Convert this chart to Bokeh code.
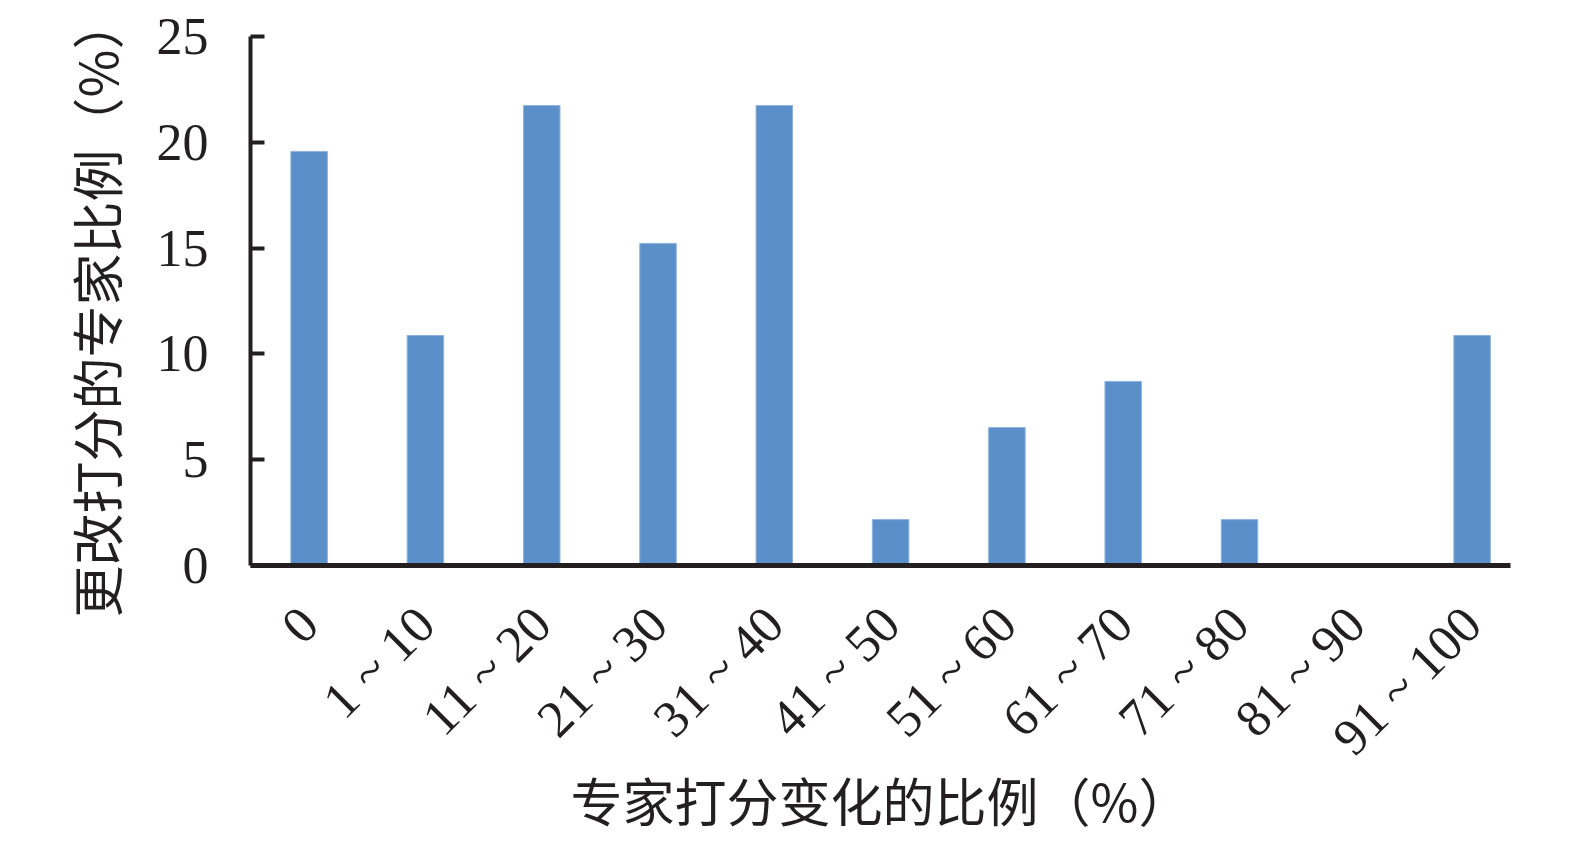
import math
from bokeh.plotting import figure
from bokeh.models import Range1d, FixedTicker, Title, ColumnDataSource
from bokeh.embed import file_html
from bokeh.resources import INLINE

categories = ["0", "1 ~ 10", "11 ~ 20", "21 ~ 30", "31 ~ 40", "41 ~ 50",
              "51 ~ 60", "61 ~ 70", "71 ~ 80", "81 ~ 90", "91 ~ 100"]
values = [19.57, 10.87, 21.74, 15.22, 21.74, 2.17, 6.52, 8.70, 2.17, 0.0, 10.87]
y_ticks = [0, 5, 10, 15, 20, 25]
x_title = "专家打分变化的比例（%）"
y_title = "更改打分的专家比例（%）"

positions = list(range(len(categories)))
src = ColumnDataSource(dict(x=positions, top=values))

TEXT = "#231f20"
BAR = "#5b8fc9"

p = figure(width=1565, height=840, output_backend="svg", toolbar_location=None,
           x_range=Range1d(-0.504, 10.33), y_range=Range1d(0, 25),
           min_border_left=250, min_border_top=36, min_border_right=55,
           min_border_bottom=275)
p.outline_line_color = None
p.grid.visible = False
p.background_fill_color = "white"
p.border_fill_color = "white"

p.vbar(x="x", top="top", width=0.314, bottom=0, source=src,
       fill_color=BAR, line_color="#8fb3dd", line_width=1)

# y axis
ya = p.yaxis[0]
ya.ticker = FixedTicker(ticks=y_ticks)
ya.axis_line_width = 4
ya.axis_line_color = TEXT
ya.major_tick_in = 14
ya.major_tick_out = 0
ya.major_tick_line_width = 4
ya.major_tick_line_color = TEXT
ya.minor_tick_line_color = None
ya.major_label_text_font = "Liberation Serif"
ya.major_label_text_font_size = "52px"
ya.major_label_text_color = TEXT
ya.major_label_standoff = 42

# x axis
xa = p.xaxis[0]
xa.ticker = FixedTicker(ticks=positions)
xa.major_label_overrides = {i: c for i, c in enumerate(categories)}
xa.major_label_orientation = math.pi / 4
xa.axis_line_width = 5
xa.axis_line_color = TEXT
xa.major_tick_in = 0
xa.major_tick_out = 0
xa.major_tick_line_color = None
xa.minor_tick_line_color = None
xa.major_label_text_font = "Liberation Serif"
xa.major_label_text_font_size = "52px"
xa.major_label_text_color = TEXT
xa.major_label_standoff = 50
xa.axis_label = x_title
xa.axis_label_text_font = "Noto Sans CJK SC"
xa.axis_label_text_font_size = "52px"
xa.axis_label_text_font_style = "normal"
xa.axis_label_text_color = TEXT
xa.axis_label_standoff = -27

yt = Title(text=y_title, align="left", offset=-52, standoff=42,
           text_font="Noto Sans CJK SC", text_font_size="52px",
           text_font_style="normal", text_color=TEXT)
p.add_layout(yt, "left")

open("out.html", "w").write(file_html(p, INLINE))
